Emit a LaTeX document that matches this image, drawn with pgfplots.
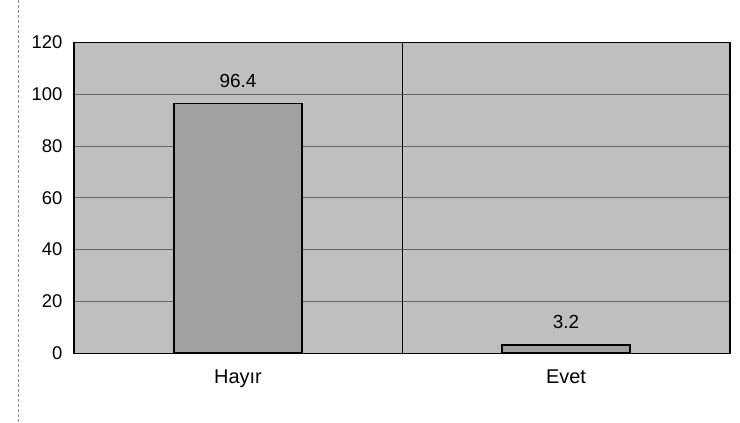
\documentclass[border=0pt]{standalone}
\usepackage{pgfplots}
\pgfplotsset{compat=1.18}
\usepackage{fontspec}
\setmainfont{Liberation Sans}
\begin{document}
\begin{tikzpicture}[x=1bp,y=1bp]
\path (0,0) rectangle (740,422);
\draw[black!45, densely dashed, line width=0.6pt] (18,422) -- (18,0);
\begin{axis}[
  at={(74bp,69bp)}, anchor=south west,
  scale only axis, width=656bp, height=311bp,
  xmin=-0.5, xmax=1.5, ymin=0, ymax=120,
  ytick={0,20,...,120},
  xtick={0,1}, xticklabels={Hayır,Evet},
  ybar, bar width=128bp,
  axis background/.style={fill=black!25},
  ymajorgrids, grid style={black!60, line width=0.6pt},
  axis line style={black, line width=1.1pt},
  tick style={draw=none},
  nodes near coords,
  nodes near coords style={font=\fontsize{19}{19}\selectfont, yshift=12bp},
  yticklabel style={font=\fontsize{18.5}{18.5}\selectfont, xshift=-8bp},
  xticklabel style={font=\fontsize{20}{20}\selectfont, yshift=-9bp},
  /pgf/number format/assume math mode=true,
  clip=false,
]
\draw[black, line width=1pt] (axis cs:0.5,0) -- (axis cs:0.5,120);
\addplot[fill=black!37, draw=black, line width=1.6pt] coordinates {(0,96.4) (1,3.2)};
\end{axis}
\end{tikzpicture}
\end{document}
